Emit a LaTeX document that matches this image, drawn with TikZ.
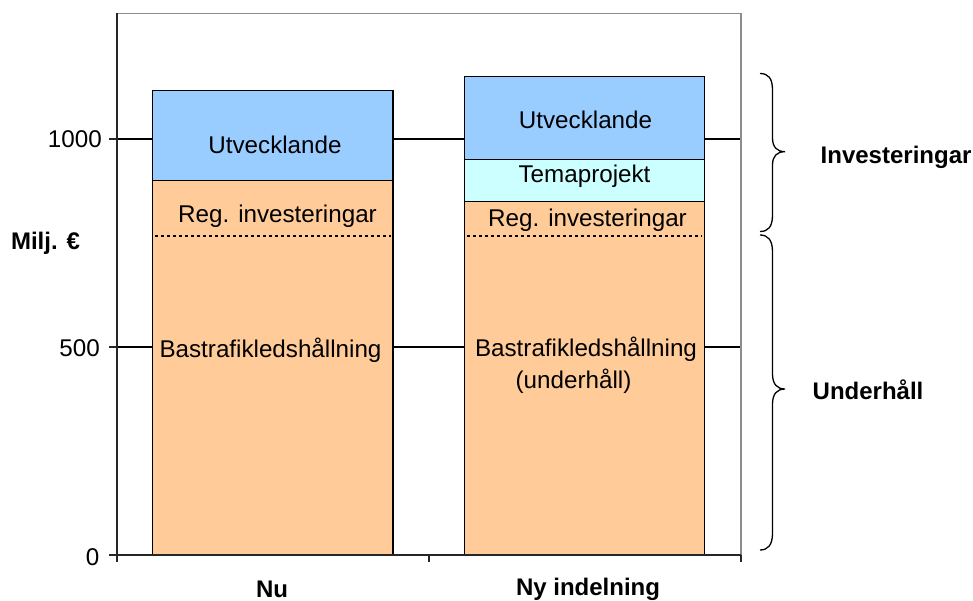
\documentclass[tikz,border=0pt]{standalone}
\usepackage{fontspec}
\setmainfont{Liberation Sans}
\definecolor{barblue}{HTML}{99CCFF}
\definecolor{barcyan}{HTML}{CCFFFF}
\definecolor{barorange}{HTML}{FFCC99}
\definecolor{framegray}{HTML}{8C8C8C}
\begin{document}
\begin{tikzpicture}[x=1pt,y=-1pt,
  lbl/.style={inner sep=0pt,font=\fontsize{24.2}{28}\selectfont},
  blbl/.style={inner sep=0pt,font=\fontsize{24}{28}\selectfont\bfseries},
  seg/.style={draw=black,line width=1.2pt},
  grid/.style={draw=black,line width=1.1pt},
  axis/.style={draw=black!85,line width=1.3pt},
  regline/.style={draw=black,line width=2.2pt,dash pattern=on 3pt off 3pt},
  bracepath/.style={draw=black,line width=1.3pt}]
\useasboundingbox (0,0) rectangle (973,601);
\fill[white] (0,0) rectangle (973,601);
% gridlines
\draw[grid] (117,139) -- (741,139);
\draw[grid] (117,347) -- (741,347);
% frame
\draw[draw=framegray,line width=1.3pt] (117,13.5) -- (741,13.5) -- (741,555);
% bar 1
\draw[seg,fill=barorange] (152.7,180.7) rectangle (393,555);
\draw[seg,fill=barblue] (152.7,90.7) rectangle (393,180.7);
\draw[regline] (155,235.7) -- (391,235.7);
% bar 2
\draw[seg,fill=barorange] (464.3,201.3) rectangle (704.3,555);
\draw[seg,fill=barcyan] (464.3,159.7) rectangle (704.3,201.3);
\draw[seg,fill=barblue] (464.3,76.3) rectangle (704.3,159.7);
\draw[regline] (467,235.7) -- (702,235.7);
% axes
\draw[axis] (117,13) -- (117,562);
\draw[axis] (109,555) -- (741,555);
\draw[axis] (109,139) -- (117,139);
\draw[axis] (109,347) -- (117,347);
\draw[axis] (429,555) -- (429,562);
\draw[axis] (741,555) -- (741,562);
% axis labels
\node[lbl,anchor=east] (t1000) at (102,139) {1000};
\node[lbl,anchor=east] (t500) at (100,348) {500};
\node[lbl,anchor=east] (t0) at (99.5,557) {0};
\node[blbl] (milj) at (45.5,243) {Milj. €};
\node[blbl] (nu) at (272,589) {Nu};
\node[blbl] (ny) at (588,589) {Ny indelning};
% bar texts
\node[lbl] (utv1) at (275,145) {Utvecklande};
\node[lbl] (reg1) at (277.5,216) {Reg. investeringar};
\node[lbl] (bas1) at (270.5,350) {Bastrafikledshållning};
\node[lbl] (utv2) at (585.5,120) {Utvecklande};
\node[lbl] (tema2) at (584.5,176) {Temaprojekt};
\node[lbl] (reg2) at (587.5,220) {Reg. investeringar};
\node[lbl] (bas2) at (586,349) {Bastrafikledshållning};
\node[lbl] (und2) at (573.5,381) {(underhåll)};
% braces
\draw[bracepath] (760,73.5) .. controls (768,73.5) and (772.5,78) .. (772.5,90)
  -- (772.5,138) .. controls (772.5,147) and (777,151.7) .. (785,151.7)
  .. controls (777,151.7) and (772.5,156) .. (772.5,165)
  -- (772.5,215) .. controls (772.5,227) and (768,231.5) .. (760,231.5);
\draw[bracepath] (760,235) .. controls (768,235) and (772.5,240) .. (772.5,252)
  -- (772.5,374) .. controls (772.5,384) and (777,389) .. (785,389)
  .. controls (777,389) and (772.5,394) .. (772.5,404)
  -- (772.5,533) .. controls (772.5,545) and (768,550) .. (760,550);
\node[blbl,anchor=west] (inv) at (820.5,157) {Investeringar};
\node[blbl,anchor=west] (und) at (812.5,390) {Underhåll};
\end{tikzpicture}
\end{document}
